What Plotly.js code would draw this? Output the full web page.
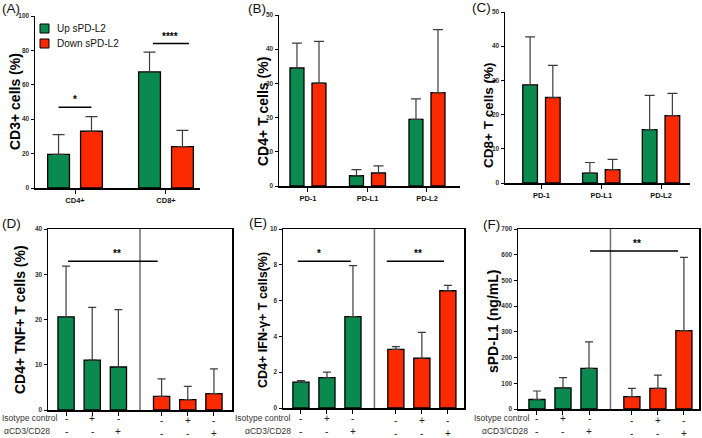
<!DOCTYPE html>
<html><head><meta charset="utf-8">
<script src="https://cdn.plot.ly/plotly-3.0.1.min.js"></script>
<style>html,body{margin:0;padding:0;background:#fff}#chart{width:702px;height:438px}</style>
</head><body><div id="chart"></div>
<script>
// ---------- data ----------
const seriesNames = ['Up sPD-L2', 'Down sPD-L2'];
// (A)
const catsA = ['CD4+', 'CD8+'];
const upA = [19.5, 67.5], upAerr = [11.5, 11.5];
const downA = [33.0, 24.0], downAerr = [8.5, 9.5];
// (B) and (C)
const catsPD = ['PD-1', 'PD-L1', 'PD-L2'];
const upB = [34.5, 3.0, 19.5], upBerr = [7.3, 1.8, 6.0];
const downB = [30.1, 3.8, 27.3], downBerr = [12.2, 2.1, 18.4];
const upC = [28.7, 2.9, 15.6], upCerr = [14.0, 3.1, 10.0];
const downC = [25.0, 3.9, 19.7], downCerr = [9.4, 3.0, 6.5];
// (D) (E) (F)  -- 3 conditions per group
const upD = [20.6, 11.0, 9.5], upDerr = [11.2, 11.7, 12.7];
const downD = [3.0, 2.3, 3.6], downDerr = [3.9, 2.9, 5.5];
const upE = [1.45, 1.7, 5.1], upEerr = [0.08, 0.3, 2.85];
const downE = [3.28, 2.78, 6.55], downEerr = [0.15, 1.45, 0.3];
const upF = [37, 82, 158], upFerr = [33, 40, 103];
const downF = [48, 80, 305], downFerr = [32, 52, 285];
const isotype = ['-', '+', '-', '-', '+', '-'];
const antiCD3 = ['-', '-', '+', '-', '-', '+'];
const rowLabels = ['Isotype control', 'αCD3/CD28'];

// ---------- styling / layout helpers ----------
const W = 702, H = 438;
const px = p => p / W, py = p => 1 - p / H;
const GREEN = '#0b8a4f', RED = '#fc2a00';
const FONT = 'Arial, "Liberation Sans", Helvetica, sans-serif';
const GROUP2 = 3.65; // start of second group on numeric axis
const zeros = a => a.map(() => 0);
function errY(arr, w) {
  return {type: 'data', symmetric: false, array: arr, arrayminus: zeros(arr),
          color: '#3c3c3c', thickness: 1.2, width: w, visible: true};
}
const traces = [];
const shapes = [];
const annotations = [];
const layout = {
  width: W, height: H, margin: {l: 0, r: 0, t: 0, b: 0},
  paper_bgcolor: '#fff', plot_bgcolor: 'rgba(0,0,0,0)',
  barmode: 'overlay', showlegend: false, font: {family: FONT, color: '#000'}
};
function axName(i, p) { return p + (i === 1 ? '' : i); }
function yAxis(i, topPx, botPx, range, dtick, mirror) {
  layout[axName(i, 'yaxis')] = {
    domain: [py(botPx), py(topPx)], anchor: axName(i, 'x'), range: range,
    tickmode: 'linear', tick0: 0, dtick: dtick, showline: true, linecolor: '#000', linewidth: 1.5,
    mirror: mirror, ticks: 'outside', ticklen: 3, tickwidth: 1, tickcolor: '#000',
    tickfont: {family: FONT, size: 6.5, color: '#333', weight: 'bold'},
    showgrid: false, zeroline: false, fixedrange: true
  };
}
function topPanel(i, cats, up, upE, down, downE, xl, xr, range, yTop, yBot, yRange, dtick, width, off, capw) {
  const xa = axName(i, 'x'), ya = axName(i, 'y');
  traces.push({type: 'bar', x: cats, y: up, xaxis: xa, yaxis: ya, name: seriesNames[0],
    marker: {color: GREEN, line: {color: '#000', width: 1.3}}, width: width, offset: -off - width / 2,
    error_y: errY(upE, capw), hoverinfo: 'skip'});
  traces.push({type: 'bar', x: cats, y: down, xaxis: xa, yaxis: ya, name: seriesNames[1],
    marker: {color: RED, line: {color: '#000', width: 1.3}}, width: width, offset: off - width / 2,
    error_y: errY(downE, capw), hoverinfo: 'skip'});
  layout[axName(i, 'xaxis')] = {
    domain: [px(xl), px(xr)], anchor: ya, type: 'category', range: range,
    showline: true, linecolor: '#000', linewidth: 1.5, ticks: 'outside', ticklen: 4, tickwidth: 1,
    tickcolor: '#000', tickfont: {family: FONT, size: 7.5, color: '#111', weight: 'bold'},
    showgrid: false, zeroline: false, fixedrange: true
  };
  yAxis(i, yTop, yBot, yRange, dtick, false);
}
function bottomPanel(i, up, upE, down, downE, xl, xr, range, yTop, yBot, yRange, dtick, lblRight) {
  const xa = axName(i, 'x'), ya = axName(i, 'y');
  const xg = up.map((_, k) => k), xr2 = down.map((_, k) => k + GROUP2);
  const w = 0.62;
  traces.push({type: 'bar', x: xg, y: up, xaxis: xa, yaxis: ya, name: seriesNames[0],
    marker: {color: GREEN, line: {color: '#000', width: 1.3}}, width: w, offset: -w / 2,
    error_y: errY(upE, 4), hoverinfo: 'skip'});
  traces.push({type: 'bar', x: xr2, y: down, xaxis: xa, yaxis: ya, name: seriesNames[1],
    marker: {color: RED, line: {color: '#000', width: 1.3}}, width: w, offset: -w / 2,
    error_y: errY(downE, 4), hoverinfo: 'skip'});
  const allX = xg.concat(xr2);
  layout[axName(i, 'xaxis')] = {
    domain: [px(xl), px(xr)], anchor: ya, range: range, tickmode: 'array', tickvals: allX,
    ticktext: allX.map(() => ''), showticklabels: false,
    showline: true, linecolor: '#000', linewidth: 1.5, mirror: true, ticks: 'outside', ticklen: 4,
    tickwidth: 1, tickcolor: '#000', showgrid: false, zeroline: false, fixedrange: true
  };
  yAxis(i, yTop, yBot, yRange, dtick, true);
  // divider between groups
  shapes.push({type: 'line', xref: xa, yref: ya + ' domain', x0: (2 + GROUP2) / 2, x1: (2 + GROUP2) / 2,
    y0: 0, y1: 1, line: {color: '#6e6e6e', width: 1.5}});
  // treatment sign rows
  allX.forEach((x, k) => {
    const dy = k >= 3 ? 2 : 0;
    annotations.push({xref: xa, yref: 'paper', x: x, y: py(418 + dy), text: isotype[k], showarrow: false,
      xanchor: 'center', yanchor: 'middle', font: {family: FONT, size: 10, color: '#222'}});
    annotations.push({xref: xa, yref: 'paper', x: x, y: py(431 + dy), text: antiCD3[k], showarrow: false,
      xanchor: 'center', yanchor: 'middle', font: {family: FONT, size: 10, color: '#222'}});
  });
  annotations.push({xref: 'paper', yref: 'paper', x: px(lblRight[0]), y: py(418), text: rowLabels[0],
    showarrow: false, xanchor: 'right', yanchor: 'middle', font: {family: FONT, size: 8.5, color: '#333'}});
  annotations.push({xref: 'paper', yref: 'paper', x: px(lblRight[1]), y: py(431), text: rowLabels[1],
    showarrow: false, xanchor: 'right', yanchor: 'middle', font: {family: FONT, size: 8.5, color: '#333'}});
}
function sig(i, x0, x1, y, xt, txt) {
  shapes.push({type: 'line', xref: axName(i, 'x'), yref: axName(i, 'y'), x0: x0, x1: x1, y0: y, y1: y,
    line: {color: '#000', width: 1.5}});
  annotations.push({xref: axName(i, 'x'), yref: axName(i, 'y'), x: xt, y: y, text: txt, showarrow: false,
    xanchor: 'center', yanchor: 'bottom', font: {family: FONT, size: 10, color: '#000', weight: 'bold'}});
}
function ytitle(xc, yc, txt, size) {
  annotations.push({xref: 'paper', yref: 'paper', x: px(xc), y: py(yc), text: txt, textangle: -90,
    showarrow: false, xanchor: 'center', yanchor: 'middle',
    font: {family: FONT, size: size, color: '#000', weight: 'bold'}});
}
function plabel(x, yc, txt) {
  annotations.push({xref: 'paper', yref: 'paper', x: px(x), y: py(yc), text: txt, showarrow: false,
    xanchor: 'left', yanchor: 'middle', font: {family: FONT, size: 13.5, color: '#111'}});
}

// ---------- panels ----------
topPanel(1, catsA, upA, upAerr, downA, downAerr, 35, 200, [-0.44, 1.374], 16, 188, [0, 100], 20, 0.24, 0.181, 6);
topPanel(2, catsPD, upB, upBerr, downB, downBerr, 279, 460, [-0.487, 2.555], 15, 186, [0, 50], 10, 0.235, 0.185, 5);
topPanel(3, catsPD, upC, upCerr, downC, downCerr, 505, 690, [-0.61, 2.485], 12, 183, [0, 50], 10, 0.245, 0.19, 5);
bottomPanel(4, upD, upDerr, downD, downDerr, 48, 232, [-0.69, 6.34], 229, 410, [0, 40], 10, [59, 52]);
bottomPanel(5, upE, upEerr, downE, downEerr, 283, 464, [-0.69, 6.27], 229, 408, [0, 10], 2, [292, 293]);
bottomPanel(6, upF, upFerr, downF, downFerr, 518, 699, [-0.73, 6.23], 229, 409, [0, 700], 100, [531, 530]);

// significance
sig(1, -0.181, 0.181, 47, 0, '*');
sig(1, 0.857, 1.253, 84, 1.04, '****');
sig(4, 0.08, 3.5, 32.9, 1.96, '**');
sig(5, -0.12, 1.92, 8.2, 0.7, '*');
sig(5, 3.3, 5.5, 8.2, 4.5, '**');
sig(6, 2.04, 5.42, 614, 3.85, '**');

// legend (panel A)
[[24, GREEN], [39, RED]].forEach(([top, col], k) => {
  shapes.push({type: 'rect', xref: 'paper', yref: 'paper', x0: px(40), x1: px(49), y0: py(top + 9), y1: py(top),
    fillcolor: col, line: {color: '#000', width: 1}});
  annotations.push({xref: 'paper', yref: 'paper', x: px(55), y: py(top + 4.5), text: seriesNames[k],
    showarrow: false, xanchor: 'left', yanchor: 'middle', font: {family: FONT, size: 10, color: '#111'}});
});

// axis titles
ytitle(15, 102, 'CD3+ cells (%)', 14);
ytitle(263, 112, 'CD4+ T cells (%)', 14);
ytitle(488, 116, 'CD8+ T cells (%)', 13.5);
ytitle(20, 320, 'CD4+ TNF+ T cells (%)', 14);
ytitle(263, 320, 'CD4+ IFN-γ+ T cells(%)', 12.5);
ytitle(493, 322, 'sPD-L1 (ng/mL)', 14);

// panel letters
plabel(0, 9, '(A)'); plabel(246, 8, '(B)'); plabel(470, 7, '(C)');
plabel(0, 223, '(D)'); plabel(247, 222, '(E)'); plabel(481, 224, '(F)');

layout.shapes = shapes;
layout.annotations = annotations;
Plotly.newPlot('chart', traces, layout, {staticPlot: true, displayModeBar: false});
</script>
</body></html>
